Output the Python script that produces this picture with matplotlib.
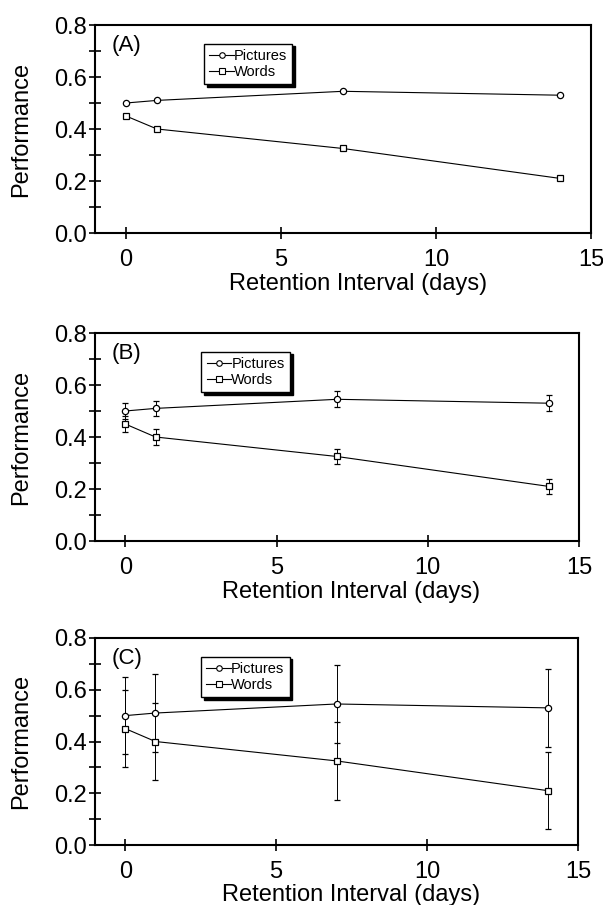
import numpy as np
import matplotlib.pyplot as plt
from matplotlib.ticker import MultipleLocator
from matplotlib.lines import Line2D

plt.rcParams['font.family'] = ['Liberation Sans', 'DejaVu Sans']

days = [0, 1, 7, 14]
pictures = [0.50, 0.51, 0.545, 0.53]
words = [0.45, 0.40, 0.325, 0.21]

# error bars per panel (none for A)
pic_err_b = [0.03, 0.03, 0.03, 0.03]
word_err_b = [0.03, 0.03, 0.03, 0.03]
pic_err_c = [0.15, 0.15, 0.15, 0.15]
word_err_c = [0.15, 0.15, 0.15, 0.15]

panels = ['(A)', '(B)', '(C)']
errs = [(None, None), (pic_err_b, word_err_b), (pic_err_c, word_err_c)]

fig = plt.figure(figsize=(6.03, 9.05), dpi=100)
W, H = 603, 905
boxes = [(95, 25, 591, 233), (95, 333, 579, 541), (95, 638, 578, 845)]

for (x0, y0, x1, y1), lab, (pe, we) in zip(boxes, panels, errs):
    aw = x1 - x0
    ax = fig.add_axes([x0 / W, 1 - y1 / H, aw / W, (y1 - y0) / H])
    ax.errorbar(days, pictures, yerr=pe, color='black', lw=0.8, marker='o', ms=4.5,
                mfc='white', mec='black', mew=0.9, capsize=2, elinewidth=0.7)
    ax.errorbar(days, words, yerr=we, color='black', lw=0.8, marker='s', ms=5,
                mfc='white', mec='black', mew=0.9, capsize=2, elinewidth=0.7)
    ax.set_xlim(-1, 15)
    ax.set_ylim(0, 0.8)
    ax.set_xticks([0, 5, 10, 15])
    ax.set_yticks([0.0, 0.2, 0.4, 0.6, 0.8])
    ax.set_yticklabels(['0.0', '0.2', '0.4', '0.6', '0.8'])
    ax.yaxis.set_minor_locator(MultipleLocator(0.1))
    ax.tick_params(which='both', direction='inout', length=9, width=1.2, labelsize=17,
                   top=False, right=False)
    ax.tick_params(axis='y', pad=1)
    ax.tick_params(axis='x', pad=7)
    for s in ax.spines.values():
        s.set_linewidth(1.5)
    ax.set_xlabel('Retention Interval (days)', fontsize=17)
    ax.xaxis.set_label_coords(0.53, -0.19)
    ax.set_ylabel('Performance', fontsize=17, va='center')
    ax.yaxis.set_label_coords((21 - x0) / aw, 0.5)
    ax.text(17 / aw, 0.95, lab, transform=ax.transAxes, fontsize=16, va='top', ha='left')
    handles = [Line2D([], [], color='black', lw=0.8, marker='o', ms=4, mfc='white', mew=0.8),
               Line2D([], [], color='black', lw=0.8, marker='s', ms=4.5, mfc='white', mew=0.8)]
    leg = ax.legend(handles, ['Pictures', 'Words'], loc='upper left',
                    bbox_to_anchor=(0.22, 0.91), fontsize=10.5,
                    frameon=True, fancybox=False, shadow={'color': 'black', 'alpha': 1},
                    handlelength=1.7, handletextpad=0.0, borderpad=0.35, labelspacing=0.15,
                    borderaxespad=0)
    leg.get_frame().set_edgecolor('black')
    leg.get_frame().set_linewidth(1.0)
    leg.get_frame().set_alpha(1)

fig.savefig('out.png', dpi=100)
